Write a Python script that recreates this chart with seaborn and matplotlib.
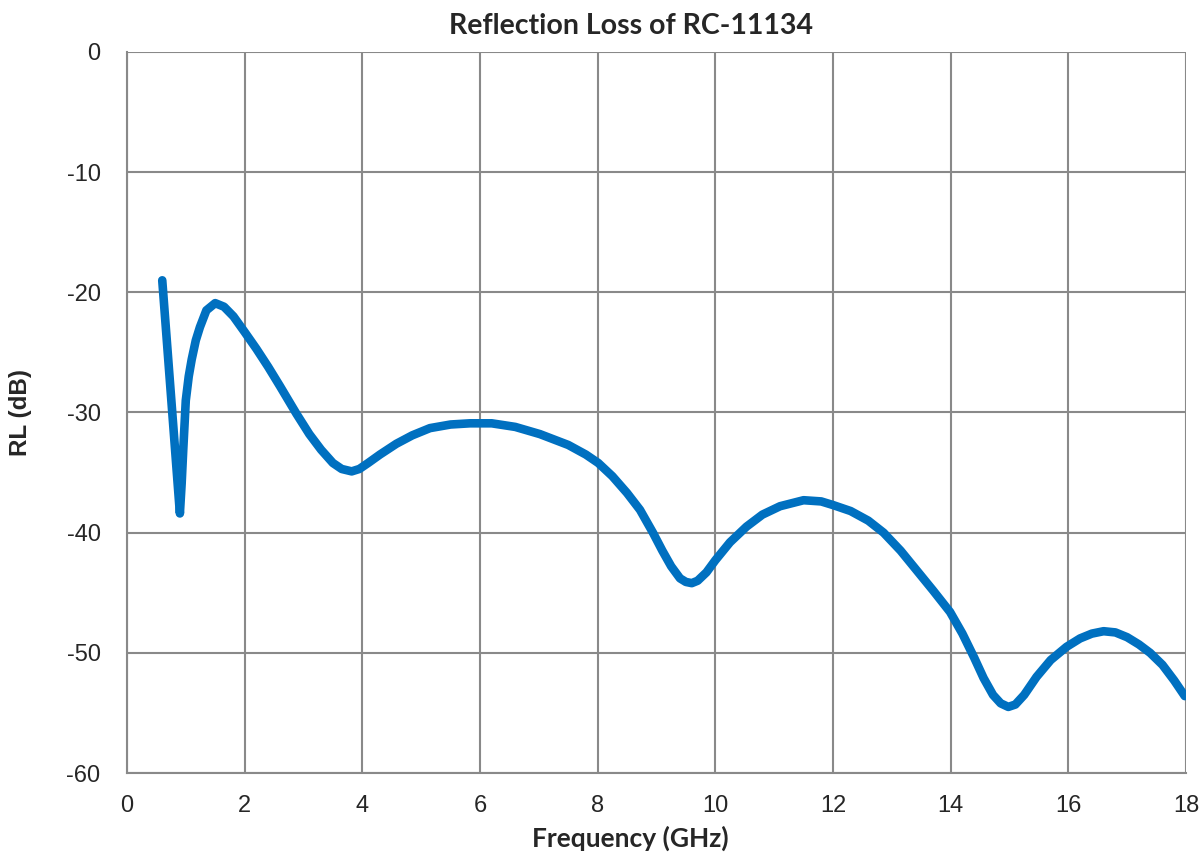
import matplotlib
matplotlib.use("Agg")
import matplotlib.pyplot as plt
import seaborn as sns
import pandas as pd

# Reflection loss readings (GHz, dB) taken off the reference curve
freq_ghz = [0.6, 0.9, 0.93, 0.957, 1.0, 1.05, 1.1, 1.17, 1.24, 1.35, 1.5, 1.65,
            1.81, 2.0, 2.2, 2.4, 2.6, 2.88, 3.1, 3.3, 3.5, 3.65, 3.82, 3.95,
            4.1, 4.3, 4.58, 4.85, 5.15, 5.5, 5.83, 6.2, 6.6, 7.02, 7.5, 7.8,
            8.01, 8.25, 8.5, 8.72, 8.94, 9.1, 9.25, 9.4, 9.5, 9.6, 9.7, 9.85,
            10.0, 10.25, 10.53, 10.8, 11.1, 11.5, 11.8, 12.0, 12.3, 12.6,
            12.86, 13.15, 13.4, 13.7, 13.99, 14.2, 14.4, 14.56, 14.72, 14.85,
            14.98, 15.1, 15.25, 15.46, 15.7, 15.97, 16.2, 16.4, 16.6, 16.8,
            17.0, 17.2, 17.39, 17.6, 17.8, 17.98]
rl_db = [-19.0, -38.4, -35.9, -33.1, -29.0, -27.0, -25.6, -24.0, -22.9, -21.5,
         -20.9, -21.2, -22.0, -23.3, -24.7, -26.2, -27.8, -30.1, -31.8, -33.1,
         -34.2, -34.7, -34.9, -34.7, -34.2, -33.5, -32.6, -31.9, -31.3, -31.0,
         -30.9, -30.9, -31.2, -31.8, -32.7, -33.5, -34.2, -35.3, -36.7, -38.1,
         -40.0, -41.5, -42.8, -43.8, -44.1, -44.2, -44.0, -43.3, -42.3, -40.8,
         -39.5, -38.5, -37.8, -37.3, -37.4, -37.7, -38.2, -39.0, -40.0, -41.5,
         -43.0, -44.8, -46.6, -48.4, -50.4, -52.1, -53.5, -54.2, -54.5, -54.3,
         -53.5, -52.0, -50.6, -49.5, -48.8, -48.4, -48.2, -48.3, -48.7, -49.3,
         -50.0, -51.0, -52.3, -53.6]

x_ticks = list(range(0, 19, 2))
y_ticks = list(range(-60, 1, 10))

df = pd.DataFrame({"Frequency (GHz)": freq_ghz, "RL (dB)": rl_db})

sns.set_style("white")
plt.rcParams['font.family'] = ['Liberation Sans', 'DejaVu Sans']
plt.rcParams['axes.unicode_minus'] = False

fig = plt.figure(figsize=(12.01, 8.52), dpi=100)
ax = fig.add_axes([0.1057, 0.0927, 0.8818, 0.8463])

sns.lineplot(data=df, x="Frequency (GHz)", y="RL (dB)", ax=ax, color="#0070C0",
             linewidth=6.2, solid_capstyle="round", solid_joinstyle="round", sort=False)

ax.set_xlim(0, 18)
ax.set_ylim(-60, 0)
ax.set_xticks(x_ticks)
ax.set_yticks(y_ticks)
ax.grid(True, color="#898989", linewidth=1.5)
ax.set_axisbelow(True)
for side in ["top", "right"]:
    ax.spines[side].set_visible(False)
for side in ["left", "bottom"]:
    ax.spines[side].set_color("#898989")
    ax.spines[side].set_linewidth(1.5)
ax.tick_params(axis="y", length=6.5, width=1.5, color="#898989", pad=12.5, labelsize=17)
ax.tick_params(axis="x", length=0, pad=16, labelsize=17)

ax.set_xlabel("Frequency (GHz)", family="Lato", fontweight="bold", fontsize=19, labelpad=6)
ax.xaxis.label.set_x(0.475)
ax.set_ylabel("RL (dB)", fontweight="bold", fontsize=17.5)
ax.yaxis.set_label_coords(-0.09, 0.5)
ax.set_title("Reflection Loss of RC-11134", family="Lato", fontweight="bold", fontsize=20.5, pad=13, x=0.476)

fig.savefig("out.png", dpi=100)
